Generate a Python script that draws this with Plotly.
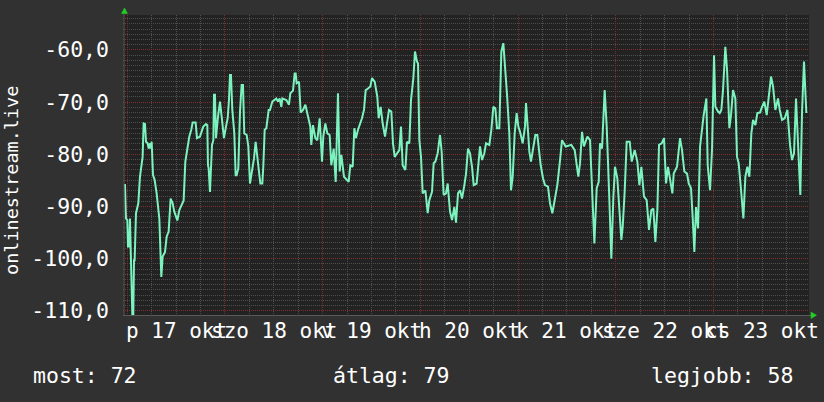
import pandas as pd
import plotly.graph_objects as go

# ---------------- data ----------------
start_day = "2025-10-17"

hours = [
    -0.57, -0.32, 0.01, 0.17, 0.50, 0.66, 1.24, 1.48, 1.65, 1.81, 2.14, 2.71, 3.12, 3.61, 3.77,
    4.02, 4.35, 4.60, 5.00, 5.25, 5.57, 5.74, 5.99, 6.32, 6.72, 7.21, 7.87, 8.36, 8.69, 9.27,
    9.67, 10.16, 10.65, 11.15, 11.55, 12.29, 12.79, 13.36, 13.84, 14.26, 14.75, 15.24, 15.72,
    16.06, 16.79, 17.12, 17.86, 18.67, 19.34, 19.66, 19.82, 19.99, 20.31, 20.81, 21.14, 21.30,
    21.54, 21.79, 22.29, 22.77, 23.18, 23.75, 24.25, 24.66, 24.98, 25.23, 25.47, 25.80, 26.29,
    26.62, 26.86, 27.27, 27.69, 28.09, 28.42, 28.74, 29.33, 29.73, 30.14, 30.55, 31.13, 31.53,
    31.94,
    32.68, 33.17, 33.41, 33.75, 34.16, 34.73, 35.05, 35.63, 36.61, 37.01, 37.43, 37.84, 38.08,
    39.07, 39.72, 40.05, 40.71, 41.11, 41.36, 41.60, 42.18, 42.59, 43.16, 43.74, 44.39, 44.96,
    45.20, 45.62, 46.19, 46.68, 47.26, 47.83, 48.15, 48.65, 49.14, 49.71, 50.12, 50.70, 51.19,
    51.75, 52.17, 52.58, 53.23, 53.81, 54.38, 54.78, 55.37, 55.77, 56.18, 56.67, 57.08, 57.65,
    58.14, 58.56, 59.13, 59.70, 60.11, 60.77, 61.42, 61.75, 62.24, 62.73, 63.31, 63.72, 64.29,
    64.86, 65.27, 65.68,
    66.83, 67.24, 67.64, 68.30, 68.71, 69.28, 69.69, 70.27, 70.67, 71.16, 71.41, 71.74, 72.15,
    72.56, 73.22, 73.79, 74.19, 74.85, 75.26, 75.67, 76.24, 76.82, 77.22, 77.71, 78.29, 78.70,
    79.27, 79.77, 80.34, 80.74, 81.24, 81.73, 82.22, 82.80, 83.21, 83.69, 84.18, 84.68, 85.09,
    85.82, 86.15, 86.64, 87.13, 87.70, 88.12, 88.93, 89.42, 89.92, 90.41, 90.81, 91.39, 91.88,
    92.37, 92.79, 93.28, 93.84, 94.25, 94.67, 95.16, 95.64, 96.06, 96.47, 97.12, 97.69, 97.94,
    98.35, 98.76, 99.16, 99.58, 100.23,
    100.72, 101.22, 101.55, 102.11, 102.60, 103.34, 103.83, 104.41, 104.98, 105.63, 106.30,
    106.78, 107.68, 109.07, 109.90, 110.38, 110.79, 111.21, 111.70, 112.18, 113.01, 113.66,
    114.24, 114.73, 115.30, 115.80, 116.12, 116.61, 117.26, 117.76, 118.33, 118.90, 119.40,
    119.80, 120.37, 120.87, 121.36, 121.69, 122.19, 122.67, 123.41, 123.90, 124.64, 125.29,
    125.79, 126.27, 126.92, 127.58, 128.15, 128.72, 129.22, 129.71, 130.20, 130.61, 131.27,
    131.84, 132.34, 132.82, 133.89,
    134.22, 135.03, 135.77, 136.26, 136.83, 137.49, 137.90, 138.47, 138.89, 139.29, 139.70,
    140.19, 140.69, 141.18, 141.58, 142.24, 142.57, 143.14, 143.64, 144.12, 144.45, 145.10,
    145.52, 145.92, 146.33, 146.90, 147.32, 147.89, 148.29, 148.79, 149.36, 149.77, 150.18,
    150.76, 151.33, 151.82, 152.31, 152.80, 153.29, 153.71, 154.28, 154.76, 155.42, 155.91,
    156.48, 157.06, 158.12, 158.62, 159.19, 159.84, 160.26, 160.83, 161.48, 162.14, 162.79,
    163.28, 163.77, 164.26, 164.75, 165.32, 165.73, 166.22, 166.80,
]

values = [
    -85.7, -92.3, -92.6, -97.7, -97.7, -92.3, -110.8, -110.8, -100.3, -100.3, -91.3, -89.4,
    -84.3, -80.8, -80.5, -74.1, -74.2, -77.6, -77.9, -78.9, -77.9, -78.9, -77.6, -84.0, -84.9,
    -87.5, -92.3, -103.5, -99.6, -98.7, -95.8, -94.8, -88.5, -89.4, -91.0, -92.7, -90.7, -89.7,
    -88.9, -81.4, -78.5, -76.6, -75.3, -73.9, -73.9, -76.9, -76.6, -74.7, -74.2, -74.4, -82.1,
    -82.7, -87.2, -78.2, -77.3, -68.6, -68.6, -76.9, -72.8, -69.9, -72.8, -76.9, -74.7, -73.1,
    -69.6, -64.8, -64.8, -71.5, -76.0, -84.0, -84.0, -82.7, -71.8, -66.7, -66.7, -76.0, -76.3,
    -78.5, -85.6, -83.7, -80.8, -77.6, -80.5,
    -85.6, -85.6, -82.4, -75.3, -75.0, -71.5, -71.5, -69.9, -69.3, -69.9, -69.3, -70.9, -69.3,
    -69.6, -70.5, -68.3, -67.8, -64.5, -64.5, -66.4, -66.1, -72.0, -71.5, -70.5, -73.1, -74.7,
    -78.2, -74.4, -76.9, -77.3, -73.1, -81.4, -76.6, -74.1, -76.0, -76.3, -82.1, -78.9, -85.3,
    -68.3, -83.3, -80.1, -84.3, -84.9, -85.3, -82.1, -82.4, -75.0, -76.9, -75.3, -74.4, -73.1,
    -71.5, -67.7, -67.4, -67.0, -65.4, -66.1, -69.0, -73.1, -70.9, -74.1, -76.6, -74.1, -71.5,
    -71.8, -77.9, -80.5,
    -79.2, -74.7, -82.1, -83.0, -77.6, -77.9, -69.6, -65.4, -60.3, -62.2, -62.6, -77.3, -80.5,
    -87.5, -86.9, -91.3, -88.8, -87.2, -81.7, -81.4, -79.8, -76.3, -79.5, -87.8, -87.5, -85.6,
    -91.0, -92.6, -90.1, -93.1, -87.5, -86.9, -88.5, -85.9, -83.7, -78.9, -79.8, -82.4, -85.9,
    -85.6, -82.4, -78.5, -81.1, -79.8, -77.9, -78.2, -75.3, -70.9, -71.2, -75.0, -75.0, -60.3,
    -58.7, -62.6, -68.6, -76.0, -86.9, -84.3, -76.0, -72.1, -74.7, -75.7, -77.9, -74.7, -70.2,
    -74.7, -79.5, -81.4, -79.5, -76.3,
    -76.3, -80.1, -82.1, -84.6, -85.9, -86.2, -89.4, -91.3, -88.5, -85.9, -81.1, -77.3, -78.5,
    -78.2, -79.2, -81.7, -84.3, -81.7, -75.7, -78.5, -76.6, -77.3, -86.5, -97.1, -86.5, -85.3,
    -77.9, -78.9, -67.7, -74.7, -86.9, -100.0, -88.1, -82.4, -84.6, -90.1, -96.4, -93.9, -86.9,
    -77.6, -77.6, -81.4, -79.2, -81.4, -85.9, -82.4, -88.1, -88.8, -94.5, -90.7, -90.4, -96.8,
    -90.7, -78.2, -77.9, -76.9, -85.6, -82.4, -87.5,
    -83.7, -82.4, -76.9, -79.2, -83.3, -83.7, -85.6, -86.5, -92.3, -98.7, -90.1, -94.2, -78.5,
    -74.4, -72.5, -69.3, -82.1, -86.9, -78.9, -61.0, -70.9, -71.8, -72.1, -71.5, -67.7, -59.4,
    -63.8, -75.0, -72.5, -67.7, -69.3, -80.5, -81.7, -86.9, -92.3, -84.3, -82.4, -84.3, -76.0,
    -73.4, -74.4, -72.1, -72.0, -70.9, -69.9, -72.5, -65.1, -67.0, -71.5, -69.3, -71.5, -73.4,
    -73.1, -71.5, -78.2, -81.1, -79.8, -69.3, -77.3, -87.8, -72.1, -62.2, -72.1,
]

y_tick_values = [-60, -70, -80, -90, -100, -110]
y_tick_labels = ["-60,0", "-70,0", "-80,0", "-90,0", "-100,0", "-110,0"]
day_labels = ["p 17 okt", "szo 18 okt", "v 19 okt", "h 20 okt", "k 21 okt", "sze 22 okt", "cs 23 okt"]
axis_title = "onlinestream.live"
legend_texts = ["most: 72", "átlag: 79", "legjobb: 58"]

# ---------------- figure ----------------
W, H = 824, 402
L, R, T, B = 123, 15, 15, 86
PW, PH = W - L - R, H - T - B

def px(x):
    return (x - L) / PW

def py(y):
    return 1 - (y - T) / PH

t0 = pd.Timestamp(start_day)
times = t0 + pd.to_timedelta(hours, unit="h")

FONT = "DejaVu Sans Mono"
TXT = "#FFFFFF"
GRID = "#4e4e4e"
MGRID = "#7a2e2e"

fig = go.Figure()
fig.add_trace(go.Scatter(
    x=times, y=values, mode="lines",
    line=dict(color="#7CF2BE", width=2),
    hoverinfo="skip", showlegend=False,
))

fig.update_layout(
    width=W, height=H,
    margin=dict(l=L, r=R, t=T, b=B),
    paper_bgcolor="#313131",
    plot_bgcolor="#222222",
    showlegend=False,
    font=dict(family=FONT, color=TXT, size=21),
)

fig.update_xaxes(
    type="date",
    range=[t0 - pd.Timedelta(hours=1.05), t0 + pd.Timedelta(hours=167.45)],
    tick0=t0, dtick=24 * 3600 * 1000,
    showgrid=True, gridcolor=MGRID, griddash="1px,1px", gridwidth=1,
    showticklabels=False, ticks="",
    zeroline=False, showline=False,
    minor=dict(dtick=6 * 3600 * 1000, tick0=t0, showgrid=True,
               gridcolor=GRID, griddash="1px,1px", gridwidth=1),
)

fig.update_yaxes(
    range=[-111.0, -53.3],
    tickmode="array", tickvals=y_tick_values, ticktext=y_tick_labels,
    showgrid=True, gridcolor=MGRID, griddash="1px,1px", gridwidth=1,
    ticks="", ticklabelstandoff=13,
    tickfont=dict(family=FONT, size=21.5, color=TXT),
    zeroline=False, showline=False,
    minor=dict(tickmode="linear", tick0=-110, dtick=1, showgrid=True,
               gridcolor=GRID, griddash="1px,1px", gridwidth=1),
)

annotations = []
for i, lab in enumerate(day_labels):
    annotations.append(dict(
        x=t0 + pd.Timedelta(hours=12 + 24 * i), xref="x",
        y=py(331), yref="paper",
        text=lab, showarrow=False, xanchor="center", yanchor="middle",
        font=dict(family=FONT, size=21, color=TXT),
    ))

annotations.append(dict(
    x=px(12), y=py(181), xref="paper", yref="paper",
    text=axis_title, textangle=-90, showarrow=False,
    xanchor="center", yanchor="middle",
    font=dict(family=FONT, size=18.5, color=TXT),
))

for txt, xl in zip(legend_texts, [31, 331, 649]):
    annotations.append(dict(
        x=px(xl), y=py(375), xref="paper", yref="paper",
        text=txt, showarrow=False, xanchor="left", yanchor="middle",
        font=dict(family=FONT, size=21.5, color=TXT),
    ))

fig.update_layout(annotations=annotations)

def pt(x, y):
    return f"{px(x)},{py(y)}"

shapes = [
    # axis lines
    dict(type="line", xref="paper", yref="paper", x0=px(124), x1=px(124), y0=py(316), y1=py(14),
         line=dict(color="#5a5a5a", width=1)),
    dict(type="line", xref="paper", yref="paper", x0=px(123), x1=px(811), y0=py(315.5), y1=py(315.5),
         line=dict(color="#5a5a5a", width=1)),
    # arrows
    dict(type="path", xref="paper", yref="paper",
         path=f"M {pt(121.5, 13.5)} L {pt(127.5, 13.5)} L {pt(124.5, 8)} Z",
         fillcolor="#22D022", line=dict(color="#22D022", width=0.5)),
    dict(type="path", xref="paper", yref="paper",
         path=f"M {pt(811, 312)} L {pt(811, 318.5)} L {pt(816.5, 315.2)} Z",
         fillcolor="#22D022", line=dict(color="#22D022", width=0.5)),
]
fig.update_layout(shapes=shapes)

fig.write_html(
    "out.html",
    config={"displayModeBar": False},
    post_script="document.body.style.margin='0';document.body.style.padding='0';document.body.style.overflow='hidden';",
)
